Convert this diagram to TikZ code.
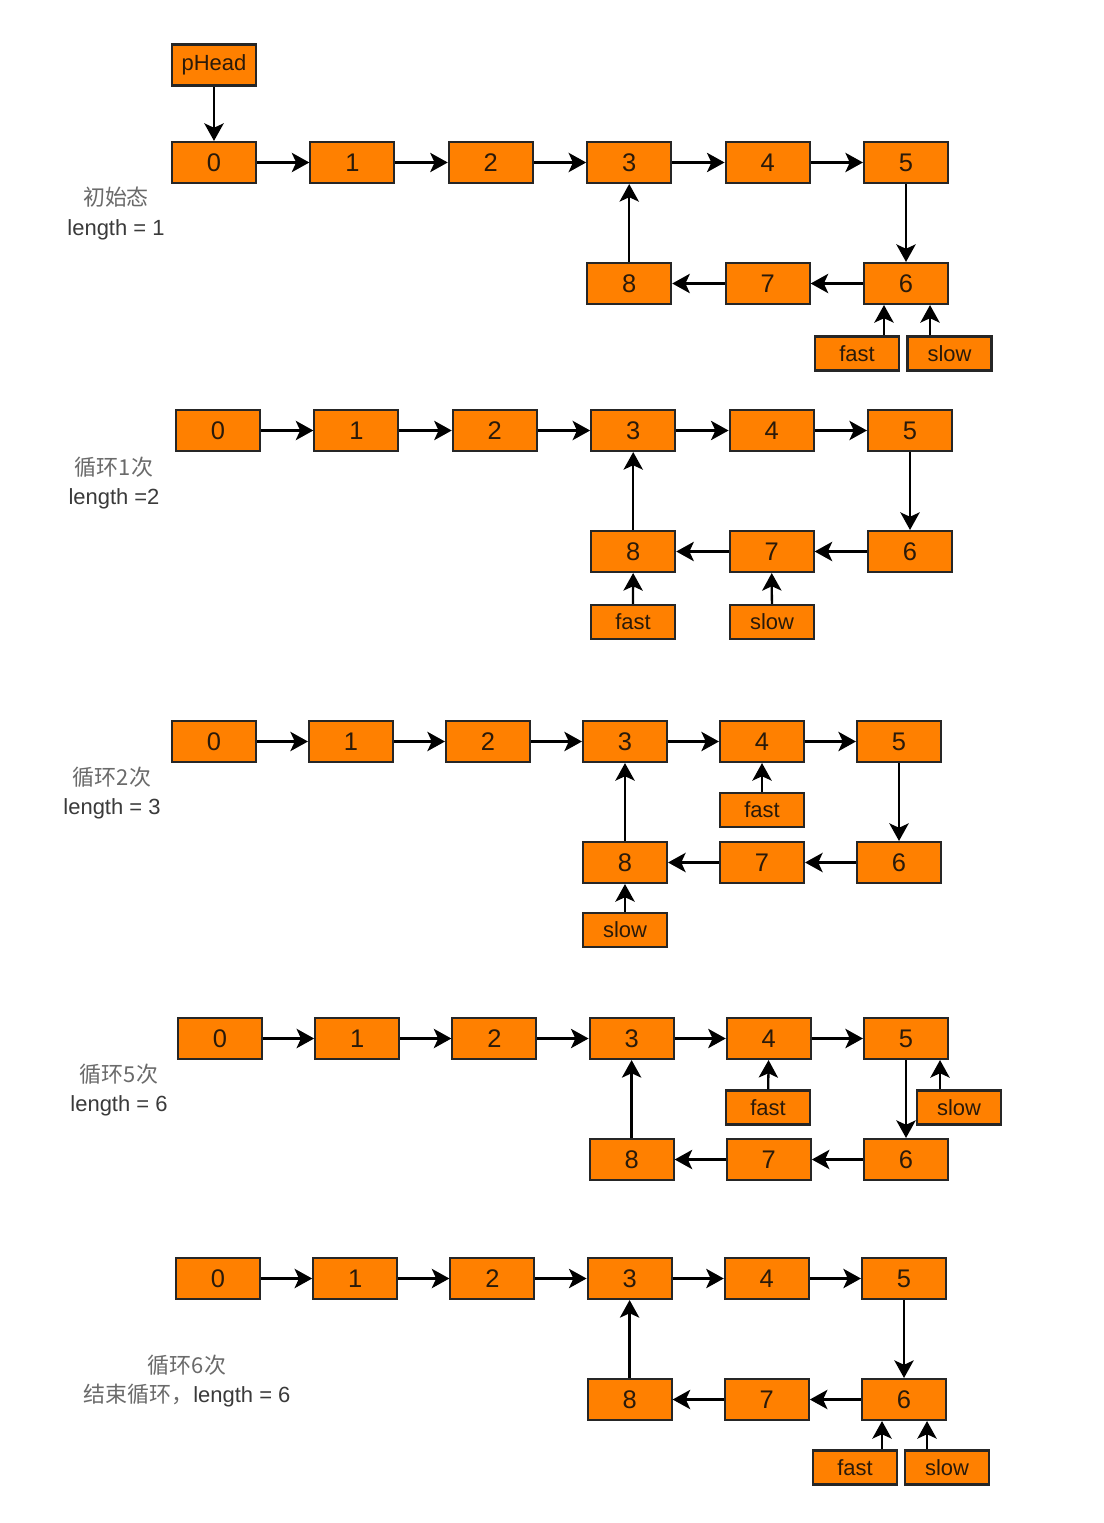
\documentclass[tikz,border=0pt]{standalone}
\usepackage{fontspec}
\setmainfont{Liberation Sans}
\newfontfamily\cjk{Noto Sans CJK SC}
\usetikzlibrary{arrows.meta,positioning}
\definecolor{boxorange}{HTML}{FF8000}
\definecolor{boxtext}{HTML}{2A1A0A}
\definecolor{capgray}{HTML}{3A3A3A}
\definecolor{cjkgray}{HTML}{6A6A6A}

\tikzset{
  elem/.style={draw=black!85, line width=1.2pt, fill=boxorange, text=boxtext,
    minimum width=1.68cm, minimum height=0.82cm, inner sep=0pt,
    font=\fontsize{14.5}{14.5}\selectfont},
  ptr/.style={elem, minimum height=0.68cm, font=\fontsize{12.5}{12.5}\selectfont},
  link/.style={-{Stealth[length=10pt,width=11pt,inset=2.5pt]}, line width=1.3pt},
  caption/.style={align=center, text=capgray, font=\fontsize{12.5}{17}\selectfont},
}

\begin{document}
\begin{tikzpicture}[x=0.02cm, y=-0.02cm]
    \useasboundingbox[fill=white] (0,0) rectangle (1104,1523);

    % Draw the five snapshots of the list
    \foreach \p/\x/\y/\d in {a/172/142/138.4, b/176/410/138.4, c/172/721/137,
                             d/178/1018/137.2, e/176/1258/137.2} {
        \foreach \i in {0,...,5}
            \node[elem] (\p\i) at (\x+42+\i*\d, \y+20.5) {\i};
        \node[elem] (\p6) at (\x+42+5*\d, \y+141.5) {6};
        \node[elem] (\p7) at (\x+42+4*\d, \y+141.5) {7};
        \node[elem] (\p8) at (\x+42+3*\d, \y+141.5) {8};

        % Draw links
        \foreach \i in {0,...,4} {
            \pgfmathtruncatemacro{\j}{\i+1}
            \draw[link] (\p\i) -- (\p\j);
        }
        \draw[link] (\p5) -- (\p6);
        \draw[link] (\p6) -- (\p7);
        \draw[link] (\p7) -- (\p8);
        \draw[link] (\p8) -- (\p3);
    }

    % Initial state
    \node[elem, font=\fontsize{12.5}{12.5}\selectfont] (head) at (214,65) {pHead};
    \draw[link] (head) -- (a0);
    \node[ptr] (afast) at (857,353.5) {fast};
    \node[ptr] (aslow) at (949.5,353.5) {slow};
    \draw[link] ([xshift=0.54cm]afast.north) -- ([xshift=0.54cm]afast.north |- a6.south);
    \draw[link] ([xshift=-0.39cm]aslow.north) -- ([xshift=-0.39cm]aslow.north |- a6.south);
    \node[caption] (acap) at (116,213.5) {{\cjk\color{cjkgray}初始态}\\length = 1};

    % Loop 1
    \node[ptr] (bfast) at (633,622) {fast};
    \node[ptr] (bslow) at (772,622) {slow};
    \draw[link] (bfast) -- (b8);
    \draw[link] (bslow) -- (b7);
    \node[caption] (bcap) at (114,483) {{\cjk\color{cjkgray}循环1次}\\length =2};

    % Loop 2
    \node[ptr] (cfast) at (762,810) {fast};
    \node[ptr] (cslow) at (625,930) {slow};
    \draw[link] (cfast) -- (c4);
    \draw[link] (cslow) -- (c8);
    \node[caption] (ccap) at (112,793) {{\cjk\color{cjkgray}循环2次}\\length = 3};

    % Loop 5
    \node[ptr] (dfast) at (768,1107.5) {fast};
    \node[ptr] (dslow) at (959,1107.5) {slow};
    \draw[link] (dfast) -- (d4);
    \draw[link] ([xshift=-0.38cm]dslow.north) -- ([xshift=-0.38cm]dslow.north |- d5.south);
    \node[caption] (dcap) at (119,1090) {{\cjk\color{cjkgray}循环5次}\\length = 6};

    % Loop 6, end
    \node[ptr] (efast) at (855,1467.5) {fast};
    \node[ptr] (eslow) at (947,1467.5) {slow};
    \draw[link] ([xshift=0.54cm]efast.north) -- ([xshift=0.54cm]efast.north |- e6.south);
    \draw[link] ([xshift=-0.4cm]eslow.north) -- ([xshift=-0.4cm]eslow.north |- e6.south);
    \node[caption] (ecap) at (187,1381) {{\cjk\color{cjkgray}循环6次}\\{\cjk\color{cjkgray}结束循环，}length = 6};
\end{tikzpicture}
\end{document}
